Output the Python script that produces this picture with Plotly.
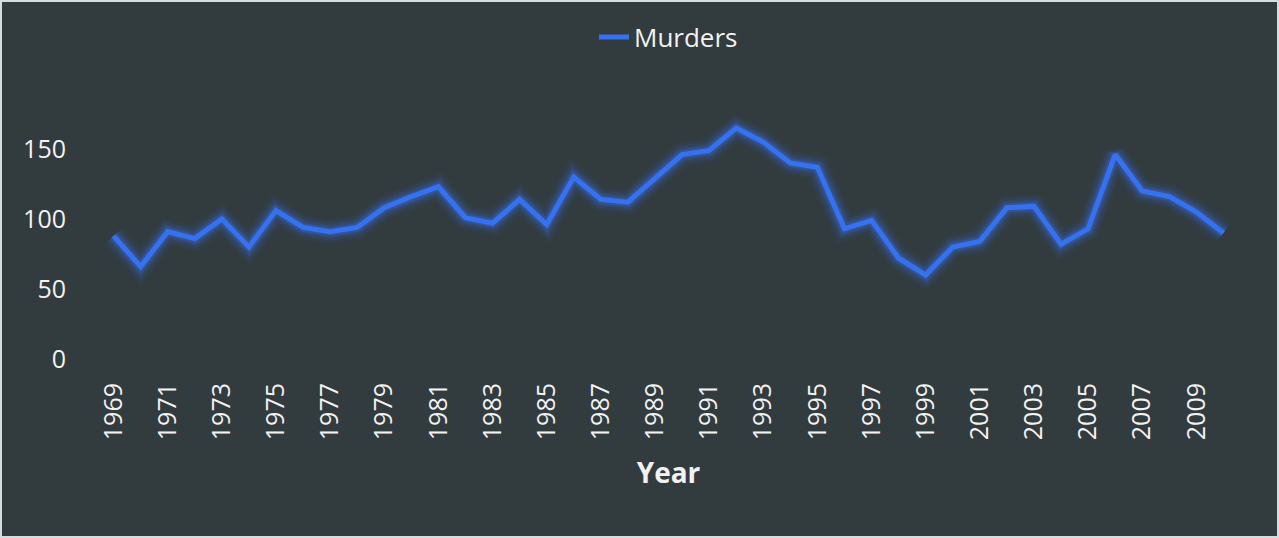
import plotly.graph_objects as go

# Murders per year
years = [str(y) for y in range(1969, 2011)]
murders = [88, 66, 91, 86, 100, 80, 106, 94, 91, 94,
           108, 116, 123, 101, 97, 114, 96, 130, 114, 112,
           129, 146, 149, 165, 155, 140, 137, 93, 99, 72,
           60, 80, 84, 108, 109, 82, 93, 146, 120, 116,
           105, 90]
tick_years = years[::2]
y_ticks = [0, 50, 100, 150]

bg = "#323b3e"
line_color = "#3671f0"
text_color = "#f2f2f2"
font_family = "Open Sans, Liberation Sans, sans-serif"

fig = go.Figure()

# soft glow under the main line
for w, a in [(24, 0.07), (18, 0.10), (13, 0.16), (9, 0.25)]:
    fig.add_trace(go.Scatter(
        x=years, y=murders, mode="lines",
        line=dict(color=f"rgba(54,113,240,{a})", width=w),
        showlegend=False, hoverinfo="skip"
    ))

fig.add_trace(go.Scatter(
    x=years, y=murders, mode="lines", name="Murders",
    line=dict(color=line_color, width=5)
))

fig.update_layout(
    width=1279, height=538,
    margin=dict(l=100, r=42, t=79, b=179),
    paper_bgcolor=bg, plot_bgcolor=bg,
    font=dict(family=font_family, color=text_color, size=25),
    legend=dict(orientation="h", x=0.5, xanchor="center",
                y=1 - 37 / 538, yanchor="middle", yref="container",
                font=dict(size=26, color=text_color), bgcolor="rgba(0,0,0,0)"),
    xaxis=dict(
        type="category", range=[-0.5, 41.5], automargin=False,
        tickmode="array", tickvals=tick_years, ticktext=tick_years,
        tickangle=-90, showgrid=False, zeroline=False, showline=False,
        ticks="outside", ticklen=13, tickcolor=bg,
        tickfont=dict(size=25, color=text_color),
        title=dict(text="<b>Year</b>", font=dict(size=28, color=text_color), standoff=24)
    ),
    yaxis=dict(
        range=[0, 200], tickmode="array", tickvals=y_ticks, automargin=False,
        showgrid=False, zeroline=False, showline=False,
        ticks="outside", ticklen=28, tickcolor=bg,
        tickfont=dict(size=25, color=text_color)
    ),
    shapes=[dict(
        type="rect", xref="paper", yref="paper",
        x0=(1 - 100) / 1137, x1=(1278 - 100) / 1137,
        y0=(359 - 537) / 280, y1=(359 - 1) / 280,
        line=dict(color="#d6dddd", width=2), fillcolor="rgba(0,0,0,0)", layer="below"
    )]
)

fig.write_html("out.html", config={"displayModeBar": False},
               post_script="document.body.style.margin='0';")
